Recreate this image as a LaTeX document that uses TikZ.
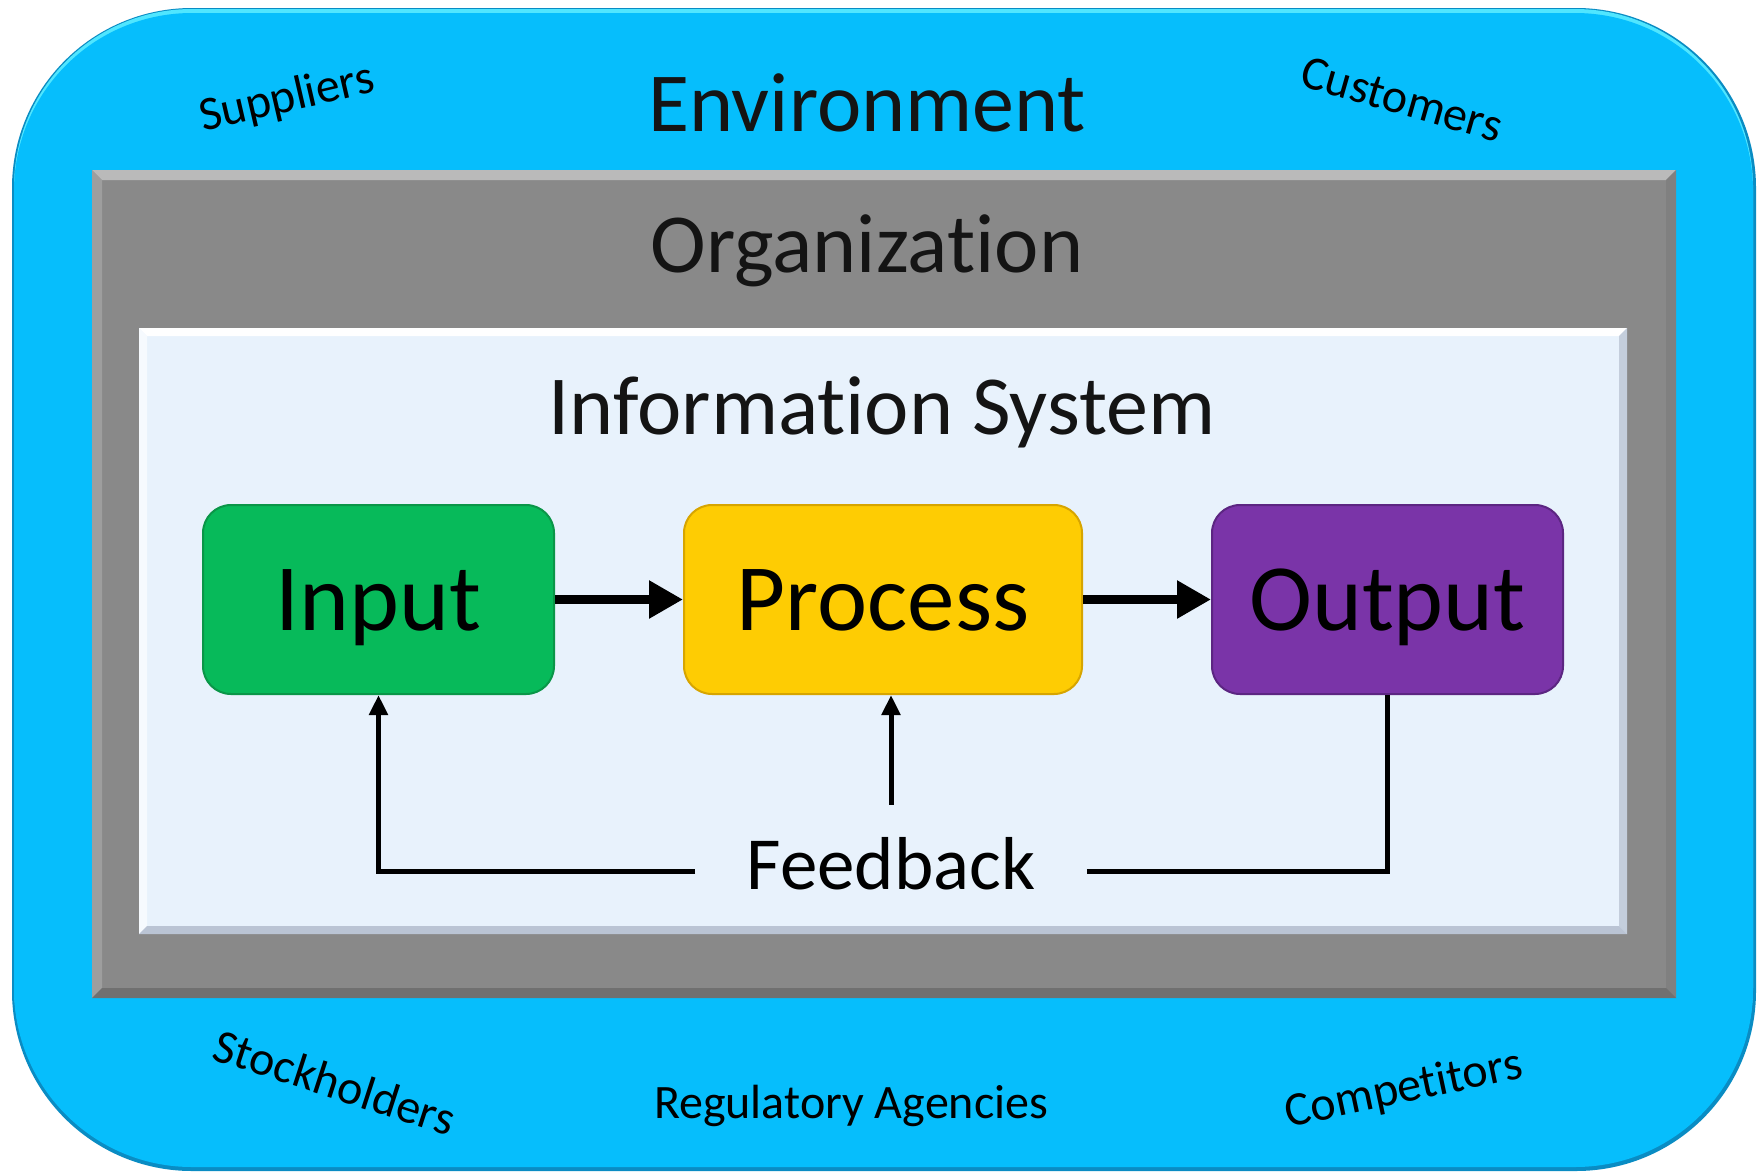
\documentclass[tikz,border=0pt]{standalone}
\usepackage{fontspec}
\setmainfont[Ligatures={NoCommon}]{Carlito}
\usetikzlibrary{arrows.meta}
\definecolor{envblue}{RGB}{6,190,252}
\definecolor{envdark}{RGB}{10,140,195}
\definecolor{envlight}{RGB}{80,230,255}
\definecolor{orggray}{RGB}{137,137,137}
\definecolor{isbg}{RGB}{232,242,252}
\definecolor{isshade}{RGB}{196,206,220}
\definecolor{isshadeb}{RGB}{186,196,212}
\definecolor{ingreen}{RGB}{7,186,90}
\definecolor{ingreend}{RGB}{10,150,72}
\definecolor{procyel}{RGB}{254,204,3}
\definecolor{procyeld}{RGB}{215,165,0}
\definecolor{outpur}{RGB}{122,52,168}
\definecolor{outpurd}{RGB}{92,38,130}
\begin{document}
\begin{tikzpicture}[x=1pt,y=-1pt,
  title/.style={font=\fontsize{84}{90}\selectfont, text=black!92, anchor=base, inner sep=0pt},
  envlabel/.style={font=\fontsize{48}{52}\selectfont, text=black, inner sep=0pt},
  box/.style={rounded corners=28pt, line width=2pt, minimum height=189pt, inner sep=0pt,
    text height=61pt, text depth=0pt, font=\fontsize{95}{100}\selectfont, text=black},
  mainarrow/.style={line width=9pt, -{Triangle[length=34pt,width=36pt]}},
  fbline/.style={line width=5pt},
  fbarrow/.style={line width=5pt, -{Triangle[length=20pt,width=18pt]}}
]
\useasboundingbox (0,0) rectangle (1758,1173);
% Environment (outer rounded frame)
\fill[envdark, rounded corners=180pt] (12,8) rectangle (1756,1171);
\fill[envlight, rounded corners=178pt] (14,9) rectangle (1753,1164);
\fill[envblue, rounded corners=178pt] (14,13) rectangle (1753,1167);
% Organization (gray bevelled rectangle)
\fill[orggray] (92,170) rectangle (1676,998);
\fill[black!27] (92,170) -- (1676,170) -- (1666,180) -- (102,180) -- cycle;
\fill[black!38] (92,170) -- (102,180) -- (102,988) -- (92,998) -- cycle;
\fill[black!50] (1676,170) -- (1676,998) -- (1666,988) -- (1666,180) -- cycle;
\fill[black!56] (92,998) -- (1676,998) -- (1666,988) -- (102,988) -- cycle;
% Information system (light bevelled rectangle)
\fill[isbg] (139,328) rectangle (1627,934);
\fill[white] (139,328) -- (1627,328) -- (1619,336) -- (147,336) -- cycle;
\fill[white!60!isbg] (139,328) -- (147,336) -- (147,926) -- (139,934) -- cycle;
\fill[isshade] (1627,328) -- (1627,934) -- (1619,926) -- (1619,336) -- cycle;
\fill[isshadeb] (139,934) -- (1627,934) -- (1619,926) -- (147,926) -- cycle;
% Titles
\node[title] (env) at (867,131) {Environment};
\node[title] (org) at (867,272) {Organization};
\node[title] (is) at (882,434) {Information System};
% Environment labels
\node[envlabel, rotate=13] (sup) at (287,99) {Suppliers};
\node[envlabel, rotate=-16] (cus) at (1402,99) {Customers};
\node[envlabel, rotate=-18] (sto) at (335,1082) {Stockholders};
\node[envlabel, anchor=base] (reg) at (851,1118) {Regulatory Agencies};
\node[envlabel, rotate=12] (com) at (1404,1090) {Competitors};
% Process boxes
\node[box, fill=ingreen, draw=ingreend, minimum width=351pt] (in) at (378.5,599.5) {Input};
\node[box, fill=procyel, draw=procyeld, minimum width=398pt] (proc) at (883,599.5) {Process};
\node[box, fill=outpur, draw=outpurd, minimum width=351pt] (out) at (1387.5,599.5) {Output};
\draw[mainarrow] (in.east) -- (proc.west);
\draw[mainarrow] (proc.east) -- (out.west);
% Feedback
\node[font=\fontsize{75}{80}\selectfont, text=black, anchor=base, text height=48pt, text depth=12pt,
  inner xsep=51.5pt, inner ysep=36pt] (fb) at (891,889) {Feedback};
\draw[fbarrow] (fb.west) -| (in.south);
\draw[fbline] (fb.east) -| (out.south);
\draw[fbarrow] (fb.north) -- (fb.north |- proc.south);
\end{tikzpicture}
\end{document}
